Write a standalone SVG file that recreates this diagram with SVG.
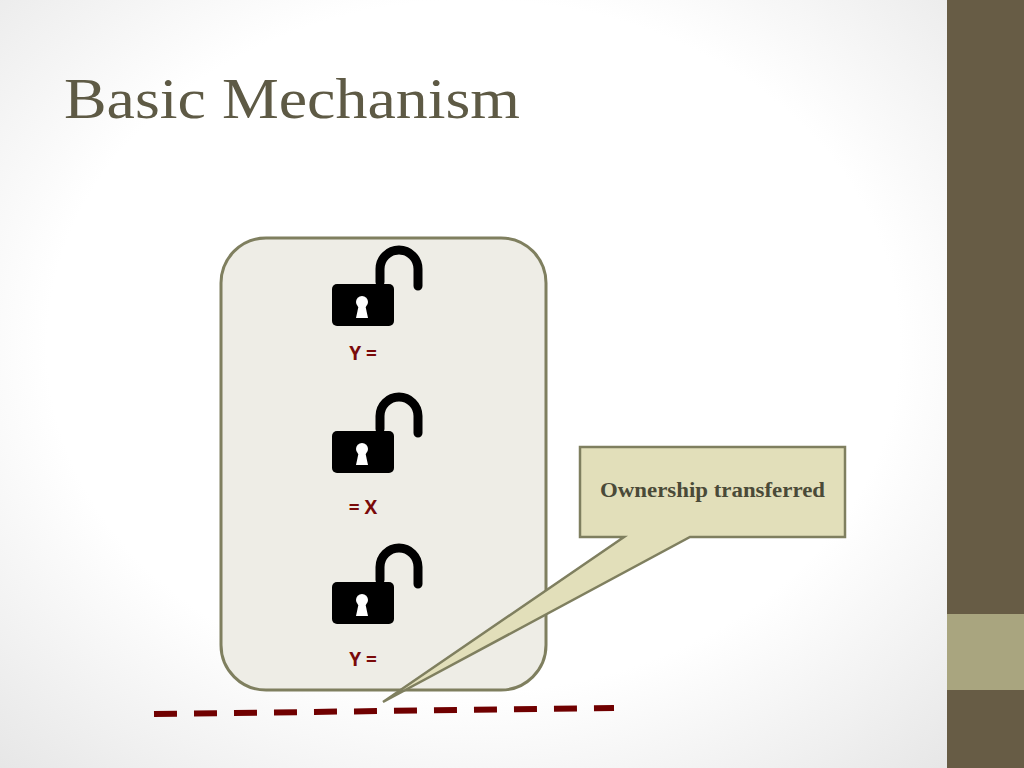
<svg xmlns="http://www.w3.org/2000/svg" width="1024" height="768" viewBox="0 0 1024 768">
<defs>
<radialGradient id="bg" cx="0.5" cy="0.45" r="0.75">
<stop offset="0.6" stop-color="#ffffff"/><stop offset="1" stop-color="#e6e6e6"/>
</radialGradient>
<g id="lock">
<path d="M18,-20 V-33 A19,19 0 0 1 56,-33 V-16" fill="none" stroke="#000" stroke-width="9" stroke-linecap="round"/>
<rect x="-30" y="-18" width="62" height="42" rx="5" fill="#000"/>
<circle cx="0" cy="0" r="6" fill="#fff"/>
<path d="M-3,2 L3,2 L6,16 L-6,16 Z" fill="#fff"/>
</g>
<style>.lbl{font-family:"Open Sans","Liberation Sans",sans-serif;font-weight:bold;font-size:19px;fill:#7a0a0a;text-anchor:middle}</style>
</defs>
<rect width="947" height="768" fill="url(#bg)"/>
<rect x="947" y="0" width="77" height="768" fill="#675c45"/>
<rect x="947" y="614" width="77" height="76" fill="#a9a57f"/>
<text x="64" y="118" font-family="Liberation Serif, serif" font-size="56" fill="#5e5a45" textLength="456" lengthAdjust="spacingAndGlyphs">Basic Mechanism</text>
<g id="box"><rect x="221" y="238" width="325" height="452" rx="45" fill="#eeede6" stroke="#7f7f5f" stroke-width="3"/></g>
<g id="lock1"><use href="#lock" x="362" y="302"/><text class="lbl" x="363" y="360">Y =</text></g>
<g id="lock2"><use href="#lock" x="362" y="449"/><text class="lbl" x="363" y="514">= X</text></g>
<g id="lock3"><use href="#lock" x="362" y="600"/><text class="lbl" x="363" y="666">Y =</text></g>
<g id="connectors">
<line x1="154" y1="714" x2="614" y2="708" stroke="#700000" stroke-width="6" stroke-dasharray="23,17"/>
</g>
<g id="callout">
<path d="M580,447 H845 V537 H690 L383,702 L624,537 H580 Z" fill="#e2dfba" stroke="#7f7f5f" stroke-width="2.5" stroke-linejoin="miter"/>
<text x="600" y="497" font-family="Liberation Serif, serif" font-weight="bold" font-size="20" fill="#4a4a38" textLength="225" lengthAdjust="spacingAndGlyphs">Ownership transferred</text>
</g>
</svg>
